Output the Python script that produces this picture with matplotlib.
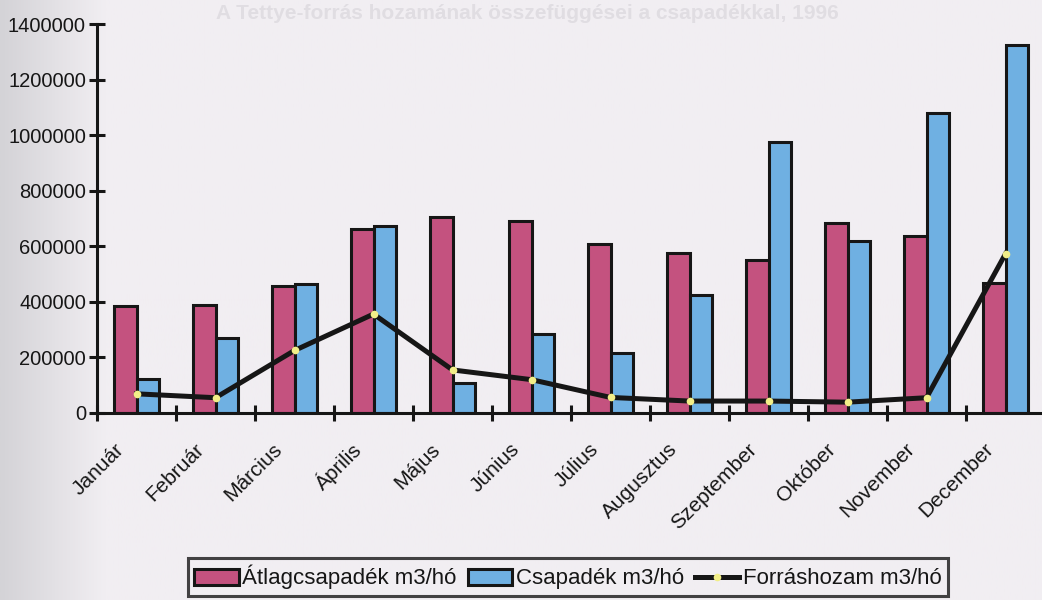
import numpy as np
import matplotlib
matplotlib.use('Agg')
import matplotlib.pyplot as plt
from matplotlib.transforms import ScaledTranslation
from matplotlib.lines import Line2D
from matplotlib.patches import Patch

plt.rcParams['font.family'] = ['Liberation Sans', 'DejaVu Sans']

months = ['Január', 'Február', 'Március', 'Április', 'Május', 'Június',
          'Július', 'Augusztus', 'Szeptember', 'Október', 'November', 'December']
atlag = [385000, 388000, 458000, 662000, 705000, 690000,
         610000, 575000, 549000, 684000, 636000, 469000]
csapadek = [124000, 270000, 465000, 673000, 108000, 284000,
            215000, 425000, 975000, 618000, 1080000, 1324000]
forras = [69000, 55000, 225000, 356000, 155000, 120000,
          56000, 43000, 43000, 39000, 55000, 573000]
yticks = [0, 200000, 400000, 600000, 800000, 1000000, 1200000, 1400000]

pink = '#c4527f'
blue = '#6fb0e2'
ink = '#161616'
bg = '#f1eef2'

fig = plt.figure(figsize=(10.42, 6.0), dpi=100, facecolor=bg)

# paper shading along the left edge
shade = fig.add_axes([0, 0, 1, 1], zorder=-5)
grad = np.clip(np.linspace(0, 1, 400) / 0.1, 0, 1)[None, :]
shade.imshow(grad, aspect='auto', cmap=matplotlib.colors.LinearSegmentedColormap.from_list(
    'paper', ['#d4d3d7', bg]), extent=[0, 1, 0, 1])
shade.axis('off')

fig.text(0.506, 0.978, 'A Tettye-forrás hozamának összefüggései a csapadékkal, 1996',
         ha='center', va='center', fontsize=15, fontweight='bold', color='#e0dde2')

ax = fig.add_axes([97 / 1042, 187 / 600, 948 / 1042, 389 / 600])
ax.set_facecolor('none')

x = np.arange(len(months))
w = 0.285
ax.bar(x - w / 2, atlag, w, color=pink, edgecolor=ink, linewidth=2.2,
       label='Átlagcsapadék m3/hó', zorder=2)
ax.bar(x + w / 2, csapadek, w, color=blue, edgecolor=ink, linewidth=2.2,
       label='Csapadék m3/hó', zorder=2)
ax.plot(x, forras, color=ink, lw=3.6, marker='o', markersize=5.5,
        markerfacecolor='#f2ee88', markeredgewidth=0, zorder=3,
        label='Forráshozam m3/hó')

ax.set_xlim(-0.5, 11.5)
ax.set_ylim(0, 1400000)
for s in ['top', 'right']:
    ax.spines[s].set_visible(False)
for s in ['left', 'bottom']:
    ax.spines[s].set_linewidth(2.2)
    ax.spines[s].set_color(ink)

ax.set_yticks(yticks)
ax.set_yticklabels([str(v) for v in yticks])
ax.tick_params(axis='y', direction='inout', length=12, width=2.2, color=ink,
               labelsize=14.5, labelcolor=ink, pad=2)

ax.set_xticks(x)
ax.set_xticks(np.arange(-0.5, 12, 1), minor=True)
ax.tick_params(axis='x', which='major', length=0, pad=24, labelcolor=ink)
ax.tick_params(axis='x', which='minor', direction='inout', length=11, width=2.2,
               color=ink)
ax.set_xticklabels(months, rotation=45, ha='right', va='center',
                   rotation_mode='anchor', fontsize=15)
shift = ScaledTranslation(-15 / 100, 0, fig.dpi_scale_trans)
for lab in ax.get_xticklabels():
    lab.set_transform(lab.get_transform() + shift)

handles = [Patch(facecolor=pink, edgecolor=ink, linewidth=2.2),
           Patch(facecolor=blue, edgecolor=ink, linewidth=2.2),
           Line2D([0], [0], color=ink, lw=3.6, marker='o', markersize=5.5,
                  markerfacecolor='#f2ee88', markeredgewidth=0)]
labels = ['Átlagcsapadék m3/hó', 'Csapadék m3/hó', 'Forráshozam m3/hó']
leg = fig.legend(handles, labels, loc='center', bbox_to_anchor=(0.545, 0.038),
                 ncol=3, fontsize=16, frameon=True, fancybox=False,
                 edgecolor=ink, facecolor='none', handlelength=2.0,
                 handleheight=0.75, handletextpad=0.15, columnspacing=0.5,
                 borderpad=0.3, labelcolor=ink)
leg.get_frame().set_linewidth(2.2)

fig.savefig('out.png', dpi=100, facecolor=bg)
